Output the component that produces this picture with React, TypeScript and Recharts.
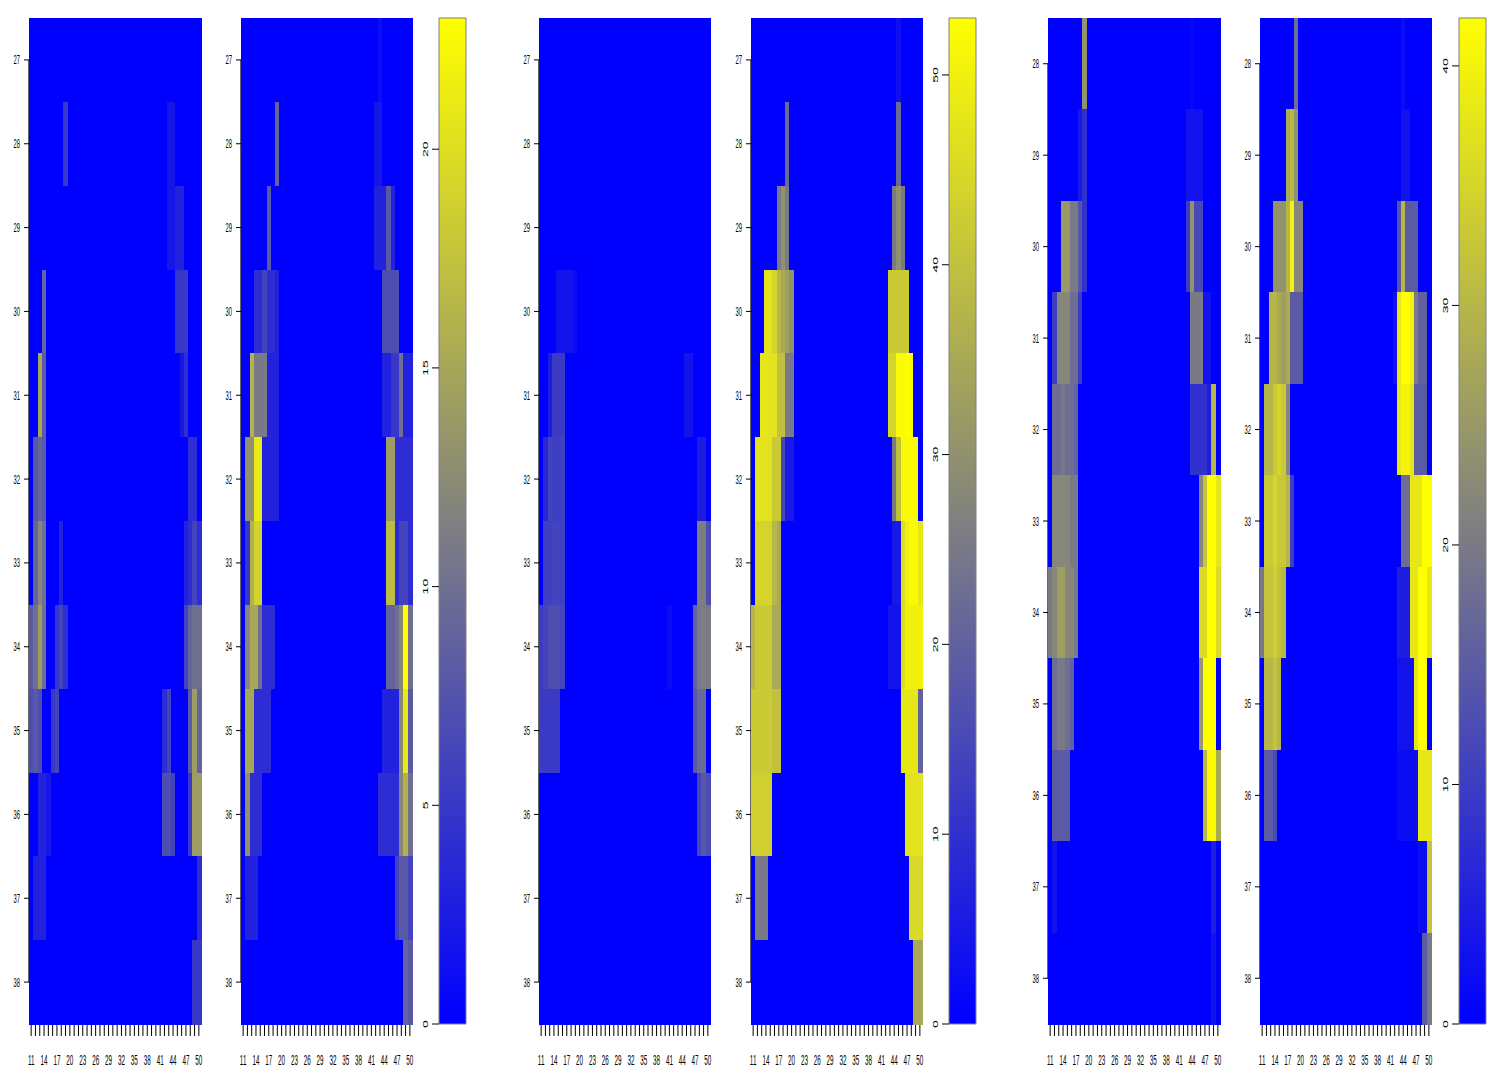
import React from 'react';
import { ScatterChart, Scatter, XAxis, YAxis, ReferenceLine, ReferenceArea } from 'recharts';

// ---------- categories / ticks ----------
const COLUMNS = [11, 12, 13, 14, 15, 16, 17, 18, 19, 20, 21, 22, 23, 24, 25, 26, 27, 28, 29, 30,
  31, 32, 33, 34, 35, 36, 37, 38, 39, 40, 41, 42, 43, 44, 45, 46, 47, 48, 49, 50];
const X_LABELS = [11, 14, 17, 20, 23, 26, 29, 32, 35, 38, 41, 44, 47, 50];
const ROWS_A = [27, 28, 29, 30, 31, 32, 33, 34, 35, 36, 37, 38];
const ROWS_B = [28, 29, 30, 31, 32, 33, 34, 35, 36, 37, 38];

// colour bar ranges and ticks
const CB1_MAX = 23;
const CB1_TICKS = [0, 5, 10, 15, 20];
const CB2_MAX = 53;
const CB2_TICKS = [0, 10, 20, 30, 40, 50];
const CB3_MAX = 42;
const CB3_TICKS = [0, 10, 20, 30, 40];

// ---------- values: each row gives columns 11-20 (LEFT) and 41-50 (RIGHT); columns 21-40 are 0 ----------
// Panel 1 (rows 27..38)
const P1_LEFT = [
  [0, 0, 0, 0, 0, 0, 0, 0, 0, 0],
  [0, 0, 0, 0, 0, 0, 0, 0, 5, 0],
  [0, 0, 0, 0, 0, 0, 0, 0, 0, 0],
  [0, 0, 0, 9, 0, 0, 0, 0, 0, 0],
  [0, 0, 15, 8, 0, 0, 0, 0, 0, 0],
  [0, 8, 9, 8, 0, 0, 0, 0, 0, 0],
  [0, 9, 12, 10, 0, 0, 0, 3, 0, 0],
  [8, 10, 14, 10, 0, 0, 5, 6, 4, 0],
  [7, 8, 7, 0, 0, 5, 6, 0, 0, 0],
  [0, 0, 3, 3, 2, 0, 0, 0, 0, 0],
  [0, 3, 3, 3, 0, 0, 0, 0, 0, 0],
  [0, 0, 0, 0, 0, 0, 0, 0, 0, 0],
];
const P1_RIGHT = [
  [0, 0, 0, 0, 0, 0, 0, 0, 0, 0],
  [0, 0, 2, 2, 0, 0, 0, 0, 0, 0],
  [0, 0, 2, 2, 3, 3, 0, 0, 0, 0],
  [0, 0, 0, 0, 5, 5, 5, 0, 0, 0],
  [0, 0, 0, 0, 0, 2, 4, 0, 0, 0],
  [0, 0, 0, 0, 0, 0, 0, 4, 4, 0],
  [0, 0, 0, 0, 0, 0, 3, 4, 6, 4],
  [0, 0, 0, 0, 0, 0, 6, 9, 10, 10],
  [0, 4, 6, 0, 0, 0, 0, 8, 14, 9],
  [0, 7, 7, 6, 0, 0, 0, 5, 14, 14],
  [0, 0, 0, 0, 0, 0, 0, 0, 0, 4],
  [0, 0, 0, 0, 0, 0, 0, 0, 5, 5],
];
// Panel 2 (rows 27..38)
const P2_LEFT = [
  [0, 0, 0, 0, 0, 0, 0, 0, 0, 0],
  [0, 0, 0, 0, 0, 0, 0, 0, 9, 0],
  [0, 0, 0, 0, 0, 0, 8, 0, 0, 0],
  [0, 0, 0, 4, 4, 6, 4, 4, 3, 0],
  [0, 0, 16, 11, 11, 11, 3, 3, 3, 0],
  [0, 13, 13, 21, 21, 3, 3, 3, 3, 0],
  [0, 5, 16, 19, 19, 0, 0, 0, 0, 0],
  [0, 12, 15, 15, 10, 4, 4, 4, 0, 0],
  [0, 15, 15, 4, 4, 4, 4, 0, 0, 0],
  [0, 13, 4, 4, 4, 0, 0, 0, 0, 0],
  [0, 3, 3, 3, 0, 0, 0, 0, 0, 0],
  [0, 0, 0, 0, 0, 0, 0, 0, 0, 0],
];
const P2_RIGHT = [
  [0, 0, 1, 0, 0, 0, 0, 0, 0, 0],
  [0, 2, 2, 0, 0, 0, 0, 0, 0, 0],
  [0, 3, 3, 3, 8, 3, 0, 0, 0, 0],
  [0, 0, 0, 7, 7, 7, 7, 0, 0, 0],
  [0, 0, 0, 3, 3, 5, 5, 10, 3, 3],
  [0, 0, 0, 0, 14, 14, 4, 4, 4, 4],
  [0, 0, 0, 0, 17, 17, 4, 6, 6, 4],
  [0, 0, 0, 0, 9, 9, 10, 12, 23, 10],
  [0, 0, 0, 3, 3, 3, 3, 12, 21, 8],
  [0, 0, 4, 4, 4, 4, 4, 12, 16, 10],
  [0, 0, 0, 0, 0, 0, 6, 8, 8, 6],
  [0, 0, 0, 0, 0, 0, 0, 0, 9, 8],
];
// Panel 3 (rows 27..38)
const P3_LEFT = [
  [0, 0, 0, 0, 0, 0, 0, 0, 0, 0],
  [0, 0, 0, 0, 0, 0, 0, 0, 0, 0],
  [0, 0, 0, 0, 0, 0, 0, 0, 0, 0],
  [0, 0, 0, 0, 4, 4, 4, 4, 2, 0],
  [0, 0, 6, 12, 12, 12, 0, 0, 0, 0],
  [0, 8, 14, 13, 13, 13, 0, 0, 0, 0],
  [0, 13, 13, 14, 14, 13, 0, 0, 0, 0],
  [12, 14, 16, 16, 16, 14, 0, 0, 0, 0],
  [12, 12, 12, 12, 12, 0, 0, 0, 0, 0],
  [0, 0, 0, 0, 0, 0, 0, 0, 0, 0],
  [0, 0, 0, 0, 0, 0, 0, 0, 0, 0],
  [0, 0, 0, 0, 0, 0, 0, 0, 0, 0],
];
const P3_RIGHT = [
  [0, 0, 0, 0, 0, 0, 0, 0, 0, 0],
  [0, 0, 0, 0, 0, 0, 0, 0, 0, 0],
  [0, 0, 0, 0, 0, 0, 0, 0, 0, 0],
  [0, 0, 0, 0, 0, 0, 0, 0, 0, 0],
  [0, 0, 0, 0, 4, 4, 0, 0, 0, 0],
  [0, 0, 0, 0, 0, 0, 0, 6, 6, 0],
  [0, 0, 0, 0, 0, 0, 0, 26, 26, 16],
  [2, 0, 0, 0, 0, 0, 20, 25, 26, 25],
  [0, 0, 0, 0, 0, 0, 18, 22, 22, 0],
  [0, 0, 0, 0, 0, 0, 0, 14, 18, 16],
  [0, 0, 0, 0, 0, 0, 0, 0, 0, 0],
  [0, 0, 0, 0, 0, 0, 0, 0, 0, 0],
];
// Panel 4 (rows 27..38)
const P4_LEFT = [
  [0, 0, 0, 0, 0, 0, 0, 0, 0, 0],
  [0, 0, 0, 0, 0, 0, 0, 0, 22, 0],
  [0, 0, 0, 0, 0, 0, 25, 30, 25, 0],
  [0, 0, 0, 47, 47, 44, 38, 35, 33, 30],
  [0, 0, 48, 48, 47, 47, 40, 40, 25, 25],
  [0, 47, 47, 47, 47, 42, 42, 15, 5, 5],
  [0, 44, 44, 44, 44, 38, 35, 0, 0, 0],
  [38, 42, 42, 42, 42, 35, 35, 0, 0, 0],
  [42, 42, 42, 42, 42, 40, 40, 0, 0, 0],
  [43, 43, 43, 43, 43, 0, 0, 0, 0, 0],
  [0, 25, 25, 25, 0, 0, 0, 0, 0, 0],
  [0, 0, 0, 0, 0, 0, 0, 0, 0, 0],
];
const P4_RIGHT = [
  [0, 0, 0, 0, 3, 0, 0, 0, 0, 0],
  [0, 0, 0, 0, 22, 0, 0, 0, 0, 0],
  [0, 0, 0, 25, 30, 25, 0, 0, 0, 0],
  [0, 0, 42, 42, 42, 42, 42, 0, 0, 0],
  [0, 0, 44, 44, 52, 52, 53, 52, 0, 0],
  [0, 0, 0, 25, 40, 52, 52, 52, 52, 0],
  [0, 0, 0, 5, 5, 46, 50, 52, 52, 48],
  [0, 0, 4, 4, 4, 46, 50, 50, 50, 50],
  [0, 0, 0, 0, 0, 48, 48, 48, 48, 20],
  [0, 0, 0, 0, 0, 0, 47, 47, 47, 47],
  [0, 0, 0, 0, 0, 0, 0, 45, 45, 45],
  [0, 0, 0, 0, 0, 0, 0, 0, 35, 35],
];
// Panel 5 (rows 28..38)
const P5_LEFT = [
  [0, 0, 0, 0, 0, 0, 0, 0, 24, 0],
  [0, 0, 0, 0, 0, 0, 0, 4, 8, 0],
  [0, 0, 0, 25, 25, 20, 20, 14, 8, 0],
  [0, 10, 22, 22, 22, 18, 18, 10, 0, 0],
  [0, 18, 18, 20, 18, 18, 16, 0, 0, 0],
  [0, 22, 22, 22, 22, 20, 20, 0, 0, 0],
  [20, 22, 26, 26, 22, 22, 20, 0, 0, 0],
  [0, 18, 20, 20, 18, 16, 0, 0, 0, 0],
  [0, 15, 15, 15, 15, 0, 0, 0, 0, 0],
  [0, 3, 0, 0, 0, 0, 0, 0, 0, 0],
  [0, 0, 0, 0, 0, 0, 0, 0, 0, 0],
];
const P5_RIGHT = [
  [0, 0, 0, 1, 0, 0, 0, 0, 0, 0],
  [0, 0, 3, 3, 3, 3, 0, 0, 0, 0],
  [0, 0, 10, 24, 12, 12, 0, 0, 0, 0],
  [0, 0, 0, 20, 20, 20, 3, 3, 0, 0],
  [0, 0, 0, 8, 8, 8, 8, 5, 30, 0],
  [0, 0, 0, 0, 0, 22, 32, 42, 42, 38],
  [0, 0, 0, 0, 0, 36, 36, 42, 42, 36],
  [0, 0, 0, 0, 0, 25, 42, 42, 42, 0],
  [0, 0, 0, 0, 0, 0, 30, 41, 41, 28],
  [0, 0, 0, 0, 0, 0, 0, 0, 5, 0],
  [0, 0, 0, 0, 0, 0, 0, 0, 3, 0],
];
// Panel 6 (rows 28..38)
const P6_LEFT = [
  [0, 0, 0, 0, 0, 0, 0, 0, 18, 0],
  [0, 0, 0, 0, 0, 0, 28, 30, 24, 0],
  [0, 0, 0, 24, 24, 24, 30, 40, 22, 22],
  [0, 0, 30, 30, 28, 26, 28, 15, 15, 15],
  [0, 30, 30, 33, 35, 33, 22, 0, 0, 0],
  [0, 33, 33, 35, 33, 33, 30, 10, 0, 0],
  [20, 32, 32, 34, 32, 30, 0, 0, 0, 0],
  [0, 30, 30, 32, 30, 0, 0, 0, 0, 0],
  [0, 15, 15, 12, 0, 0, 0, 0, 0, 0],
  [0, 0, 0, 0, 0, 0, 0, 0, 0, 0],
  [0, 0, 0, 0, 0, 0, 0, 0, 0, 0],
];
const P6_RIGHT = [
  [0, 0, 0, 2, 0, 0, 0, 0, 0, 0],
  [0, 0, 0, 3, 3, 0, 0, 0, 0, 0],
  [0, 0, 14, 30, 15, 15, 15, 0, 0, 0],
  [0, 3, 38, 42, 42, 40, 20, 16, 16, 0],
  [0, 0, 38, 40, 40, 38, 15, 15, 15, 0],
  [0, 0, 0, 18, 18, 38, 38, 38, 42, 42],
  [0, 0, 5, 5, 5, 38, 38, 42, 42, 38],
  [0, 0, 3, 3, 3, 3, 38, 42, 42, 0],
  [0, 0, 2, 2, 2, 2, 2, 38, 38, 38],
  [0, 0, 0, 0, 0, 0, 0, 2, 2, 32],
  [0, 0, 0, 0, 0, 0, 0, 0, 15, 20],
];

// ---------- layout ----------
const FONT = '"Liberation Sans", Arial, sans-serif';
const CHART_H = 1078;
const PLOT_TOP = 18;
const PLOT_BOTTOM = 1024;
const Y_AXIS_W = 40;
const CB_W = 27;

function heatColor(v: number, max: number): string {
  const t = Math.max(0, Math.min(1, v / max));
  let r: number, g: number, b: number;
  if (t < 0.5) {
    const u = t / 0.5;
    r = 128 * u; g = 128 * u; b = 255 - 127 * u;
  } else {
    const u = (t - 0.5) / 0.5;
    r = 128 + 127 * u; g = 128 + 127 * u; b = 128 - 128 * u;
  }
  return `rgb(${Math.round(r)},${Math.round(g)},${Math.round(b)})`;
}

function buildCells(rows: number[], left: number[][], right: number[][], max: number) {
  const out: { x: number; y: number; v: number; fill: string }[] = [];
  rows.forEach((r, i) => {
    COLUMNS.forEach((c) => {
      let v = 0;
      if (c <= 20) v = left[i][c - 11];
      else if (c >= 41) v = right[i][c - 41];
      out.push({ x: c, y: r, v, fill: heatColor(v, max) });
    });
  });
  return out;
}

const XTick = (props: any) => {
  const { x, y, payload } = props;
  if (!X_LABELS.includes(payload.value)) return <g />;
  return (
    <text transform={`translate(${x},${y + 22}) scale(0.45,1)`} textAnchor="middle"
      dominantBaseline="central" fontSize={14} fontFamily={FONT} fill="#000">
      {payload.value}
    </text>
  );
};

const YTick = (props: any) => {
  const { x, y, payload } = props;
  return (
    <text transform={`translate(${x - 2},${y}) scale(0.45,1)`} textAnchor="end"
      dominantBaseline="central" fontSize={13} fontFamily={FONT} fill="#000">
      {payload.value}
    </text>
  );
};

const CbTick = (props: any) => {
  const { x, y, payload } = props;
  return (
    <text transform={`translate(${x - 4},${y}) scale(0.45,1) rotate(-90)`} textAnchor="middle"
      dominantBaseline="central" fontSize={14} fontFamily={FONT} fill="#000">
      {payload.value}
    </text>
  );
};

function HeatPanel({ plotX, plotW, rows, left, right, max }: {
  plotX: number; plotW: number; rows: number[]; left: number[][]; right: number[][]; max: number;
}) {
  const plotH = PLOT_BOTTOM - PLOT_TOP;
  const cw = plotW / COLUMNS.length;
  const ch = plotH / rows.length;
  const data = buildCells(rows, left, right, max);
  const yMin = rows[0] - 0.5;
  const yMax = rows[rows.length - 1] + 0.5;
  const shape = (p: any) => (
    <rect x={p.cx - cw / 2} y={p.cy - ch / 2} width={cw + 0.5} height={ch + 0.5}
      fill={p.payload.fill} shapeRendering="crispEdges" />
  );
  return (
    <div style={{ position: 'absolute', left: plotX - Y_AXIS_W, top: 0 }}>
      <ScatterChart width={Y_AXIS_W + plotW + 4} height={CHART_H}
        margin={{ top: PLOT_TOP, right: 4, bottom: 0, left: 0 }}>
        <XAxis type="number" dataKey="x" domain={[10.5, 50.5]} ticks={COLUMNS} interval={0}
          height={CHART_H - PLOT_BOTTOM} tickSize={12} stroke="#000" axisLine={false} tick={XTick} />
        <YAxis type="number" dataKey="y" domain={[yMin, yMax]} reversed ticks={rows} interval={0}
          width={Y_AXIS_W} tickSize={5} stroke="#000" axisLine={false} tick={YTick} />
        <Scatter data={data} isAnimationActive={false} shape={shape} />
        <ReferenceLine segment={[{ x: 10.5, y: rows[0] }, { x: 10.5, y: rows[rows.length - 1] }]}
          stroke="#000" strokeWidth={1.2} ifOverflow="visible" />
        <ReferenceLine segment={[{ x: 11, y: yMax }, { x: 50, y: yMax }]}
          stroke="#000" strokeWidth={1} ifOverflow="visible" />
      </ScatterChart>
    </div>
  );
}

function ColorBar({ plotX, max, ticks }: { plotX: number; max: number; ticks: number[] }) {
  return (
    <div style={{ position: 'absolute', left: plotX - Y_AXIS_W, top: 0 }}>
      <ScatterChart width={Y_AXIS_W + CB_W + 4} height={CHART_H}
        margin={{ top: PLOT_TOP, right: 4, bottom: CHART_H - PLOT_BOTTOM, left: 0 }}>
        <XAxis type="number" dataKey="x" domain={[0, 1]} hide />
        <YAxis type="number" dataKey="y" domain={[0, max]} ticks={ticks} interval={0}
          width={Y_AXIS_W} tickSize={7} stroke="#000" axisLine={false} tick={CbTick} />
        <ReferenceArea x1={0} x2={1} y1={0} y2={max} fill="url(#heatGrad)" fillOpacity={1}
          stroke="#808080" strokeOpacity={1} strokeWidth={1} ifOverflow="visible" />
        <Scatter data={[{ x: 0.5, y: 0 }]} isAnimationActive={false} shape={() => <g />} />
      </ScatterChart>
    </div>
  );
}

export default function App() {
  return (
    <div style={{ position: 'absolute', left: 0, top: 0, width: 1500, height: 1078, background: '#fff', overflow: 'hidden' }}>
      <svg width={0} height={0} style={{ position: 'absolute' }}>
        <defs>
          <linearGradient id="heatGrad" x1="0" y1="1" x2="0" y2="0">
            <stop offset="0" stopColor="rgb(0,0,255)" />
            <stop offset="0.5" stopColor="rgb(128,128,128)" />
            <stop offset="1" stopColor="rgb(255,255,0)" />
          </linearGradient>
        </defs>
      </svg>
      <HeatPanel plotX={29} plotW={172} rows={ROWS_A} left={P1_LEFT} right={P1_RIGHT} max={CB1_MAX} />
      <HeatPanel plotX={241} plotW={171} rows={ROWS_A} left={P2_LEFT} right={P2_RIGHT} max={CB1_MAX} />
      <ColorBar plotX={439} max={CB1_MAX} ticks={CB1_TICKS} />
      <HeatPanel plotX={539} plotW={171} rows={ROWS_A} left={P3_LEFT} right={P3_RIGHT} max={CB2_MAX} />
      <HeatPanel plotX={751} plotW={171} rows={ROWS_A} left={P4_LEFT} right={P4_RIGHT} max={CB2_MAX} />
      <ColorBar plotX={949} max={CB2_MAX} ticks={CB2_TICKS} />
      <HeatPanel plotX={1048} plotW={172} rows={ROWS_B} left={P5_LEFT} right={P5_RIGHT} max={CB3_MAX} />
      <HeatPanel plotX={1260} plotW={171} rows={ROWS_B} left={P6_LEFT} right={P6_RIGHT} max={CB3_MAX} />
      <ColorBar plotX={1459} max={CB3_MAX} ticks={CB3_TICKS} />
    </div>
  );
}
